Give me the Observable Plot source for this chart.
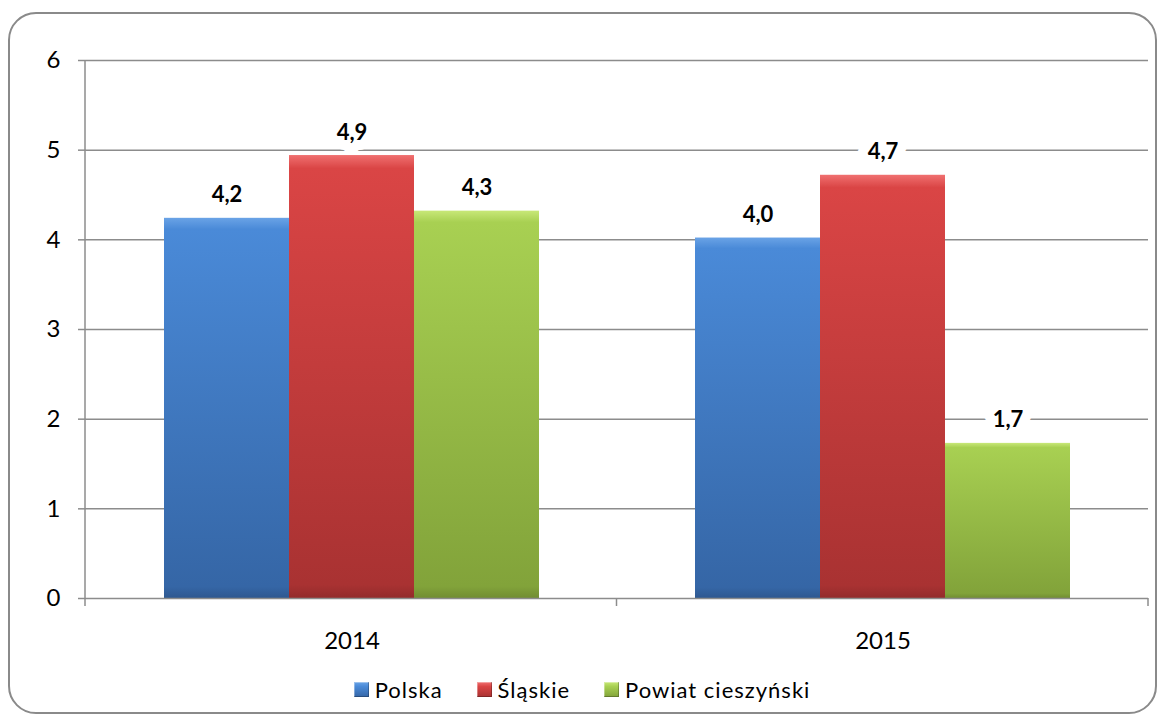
<!DOCTYPE html>
<html>
<head>
<meta charset="utf-8">
<script src="https://cdn.jsdelivr.net/npm/d3@7"></script>
<script src="https://cdn.jsdelivr.net/npm/@observablehq/plot@0.6"></script>
<style>
  html, body { margin: 0; padding: 0; background: #fff; }
  body { width: 1164px; height: 719px; position: relative; overflow: hidden; font-family: Lato, "Open Sans", sans-serif; }
  #frame { position: absolute; left: 8px; top: 12px; width: 1149px; height: 702px; border: 2px solid #8a8a8a; border-radius: 28px; box-sizing: border-box; }
  #chart { position: absolute; left: 0; top: 0; }
  #legend { position: absolute; left: 0; width: 1164px; top: 676px; display: flex; justify-content: center; gap: 34px; font-size: 22px; letter-spacing: 1px; color: #000; }
  #legend .item { display: flex; align-items: center; gap: 6px; }
  #legend .sw { width: 15px; height: 15px; display: inline-block; box-shadow: inset -1px -1px 0 rgba(0,0,0,0.25), inset 1px 1px 0 rgba(255,255,255,0.35); }
</style>
</head>
<body>
<div id="frame"></div>
<div id="chart"></div>
<div id="legend"></div>
<script>
const years = ["2014", "2015"];
const series = ["Polska", "Śląskie", "Powiat cieszyński"];
const values2014 = [4.24, 4.94, 4.32];
const values2015 = [4.02, 4.72, 1.73];
const labels2014 = ["4,2", "4,9", "4,3"];
const labels2015 = ["4,0", "4,7", "1,7"];
const yTicks = [0, 1, 2, 3, 4, 5, 6];
const gradIds = ["gPolska", "gSlaskie", "gPowiat"];
const gradColors = [
  ["#6aa3e6", "#4a8ad8", "#3566a6"],
  ["#f07070", "#da4545", "#a93232"],
  ["#c8e878", "#a8d052", "#82a33a"]
];

const data = [];
years.forEach((yr, i) => {
  const vals = i === 0 ? values2014 : values2015;
  const labs = i === 0 ? labels2014 : labels2015;
  series.forEach((s, j) => data.push({year: yr, series: s, value: vals[j], label: labs[j]}));
});

const plot = Plot.plot({
  width: 1164,
  height: 668,
  marginLeft: 85,
  marginRight: 16,
  marginTop: 60,
  marginBottom: 70,
  style: {fontFamily: "Lato, 'Open Sans', sans-serif", fontSize: "24px", background: "transparent", overflow: "visible"},
  fx: {domain: years, padding: 0, label: null, tickSize: 0, tickPadding: 33, axis: "bottom"},
  x: {domain: series, axis: null, paddingInner: 0, paddingOuter: 0.62},
  y: {domain: [0, 6], ticks: yTicks, tickFormat: d3.format("d"), label: null, tickSize: 8, tickPadding: 18},
  color: {domain: series, range: gradIds.map(id => `url(#${id})`)},
  marks: [
    Plot.ruleY(yTicks.slice(1), {stroke: "#8c8c8c", strokeWidth: 1.5}),
    Plot.barY(data, {fx: "year", x: "series", y: "value", fill: "series"}),
    Plot.ruleY([0], {stroke: "#8c8c8c", strokeWidth: 1.5}),
    Plot.text(data, {fx: "year", x: "series", y: "value", text: "label", dy: -23,
      fontWeight: "bold", fontSize: 22, fill: "#000", stroke: "white", strokeWidth: 20, strokeLinejoin: "round"})
  ]
});

// gradients
const svg = d3.select(plot);
const defs = svg.insert("defs", ":first-child");
gradIds.forEach((id, i) => {
  const g = defs.append("linearGradient").attr("id", id).attr("x1", 0).attr("y1", 0).attr("x2", 0).attr("y2", 1);
  g.append("stop").attr("offset", 0).attr("stop-color", gradColors[i][0]);
  g.append("stop").attr("offset", 0.03).attr("stop-color", gradColors[i][1]);
  g.append("stop").attr("offset", 0.97).attr("stop-color", gradColors[i][2]);
  g.append("stop").attr("offset", 1).attr("stop-color", d3.color(gradColors[i][2]).darker(0.4).formatHex());
});

// axis styling
svg.selectAll('g[aria-label$="tick label"]').style("font-size", "24px").attr("font-size", 24);
svg.selectAll('[aria-label="y-axis tick"] path, [aria-label="y-axis tick"]').attr("stroke", "#8c8c8c").attr("stroke-width", 1.5);
const y = plot.scale("y");
const fx = plot.scale("fx");
const yScale = d3.scaleLinear().domain(y.domain).range(y.range);
const left = 85, right = 1164 - 16;
const ax = svg.append("g").attr("stroke", "#8c8c8c").attr("stroke-width", 1.5);
ax.append("line").attr("x1", left).attr("x2", left).attr("y1", yScale(6)).attr("y2", yScale(0) + 8);
const bw = (right - left) / fx.domain.length;
for (let k = 1; k <= fx.domain.length; k++) {
  ax.append("line").attr("x1", left + k * bw).attr("x2", left + k * bw).attr("y1", yScale(0)).attr("y2", yScale(0) + 8);
}
document.getElementById("chart").appendChild(plot);

// legend
const legend = d3.select("#legend");
series.forEach((s, i) => {
  const it = legend.append("div").attr("class", "item");
  it.append("span").attr("class", "sw").style("background", `linear-gradient(${gradColors[i][0]}, ${gradColors[i][1]} 30%, ${gradColors[i][2]})`);
  it.append("span").text(s);
});
</script>
</body>
</html>
